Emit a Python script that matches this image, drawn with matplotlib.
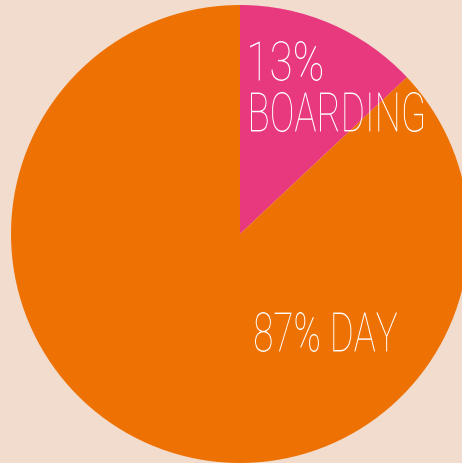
import matplotlib.pyplot as plt
from matplotlib.textpath import TextPath
from matplotlib.patches import PathPatch
from matplotlib.font_manager import FontProperties
from matplotlib.transforms import Affine2D

# share of pupils
labels = ["BOARDING", "DAY"]
shares = [13, 87]
colors = ["#E8397F", "#EE7203"]
bg = "#F2DCCE"

W, H = 462, 464
fig = plt.figure(figsize=(W / 100, H / 100), dpi=100)
fig.patch.set_facecolor(bg)
ax = fig.add_axes([0, 0, 1, 1])
ax.set_facecolor(bg)

ax.pie(shares, colors=colors, startangle=90, counterclock=False,
       center=(240, 229), radius=229, wedgeprops=dict(linewidth=0))
ax.set_xlim(0, W)
ax.set_ylim(0, H)
ax.set_aspect("equal")
ax.axis("off")

fp = FontProperties(family="Roboto", weight="light")


def squeezed(s, x0, y0, x1, y1):
    # thin condensed look: stretch a text path into the box
    tp = TextPath((0, 0), s, size=100, prop=fp)
    ext = tp.get_extents()
    tr = (Affine2D().translate(-ext.x0, -ext.y0)
          .scale((x1 - x0) / ext.width, (y1 - y0) / ext.height)
          .translate(x0, y0))
    ax.add_patch(PathPatch(tr.transform_path(tp), facecolor="white",
                           edgecolor="none"))


squeezed(f"{shares[0]}%", 250, 382, 322, 422)
squeezed(labels[0], 251, 331, 423, 371)
squeezed(f"{shares[1]}% {labels[1]}", 255, 111, 397, 151)

fig.savefig("out.png", dpi=100, facecolor=bg)
